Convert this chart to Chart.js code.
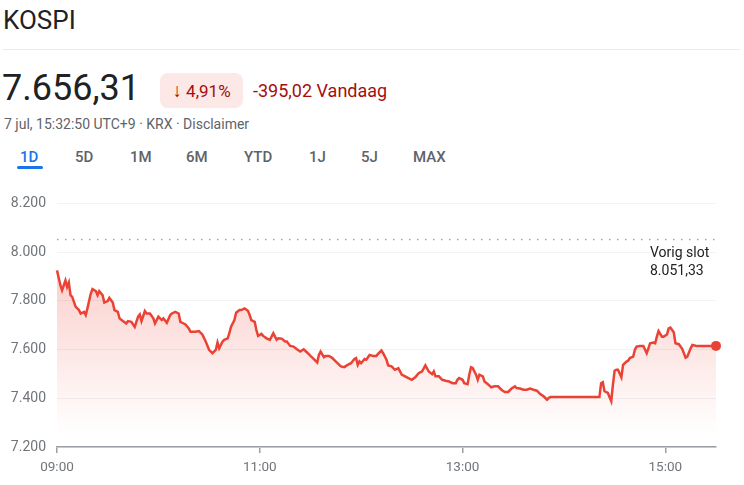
<!DOCTYPE html>
<html>
<head>
<meta charset="utf-8">
<script src="https://cdn.jsdelivr.net/npm/chart.js@4"></script>
<style>
  body { margin: 0; width: 744px; height: 485px; background: #fff; font-family: Roboto, Arial, sans-serif; position: relative; overflow: hidden; }
  .abs { position: absolute; white-space: nowrap; }
  #title { left: 3px; top: 5px; font-size: 26px; color: #202124; }
  #sep { left: 3px; top: 49px; width: 737px; height: 1px; background: #e8eaed; }
  #price { left: 2px; top: 67px; font-size: 36px; color: #202124; }
  #badge { left: 160px; top: 73px; width: 83px; height: 35px; border-radius: 8px; background: #fce8e6; color: #a50e0e; font-size: 17px; line-height: 35px; text-align: center; }
  #badge b { font-weight: 500; font-size: 19px; }
  #change { left: 253px; top: 80px; font-size: 18px; color: #a50e0e; }
  #sub { left: 4px; top: 116px; font-size: 14px; color: #5f6368; }
  .tab { top: 148px; font-size: 15px; color: #5f6368; font-weight: 500; }
  .tab.on { color: #1a73e8; }
  #uline { left: 17px; top: 166px; width: 26px; height: 3px; border-radius: 2px; background: #1a73e8; }
  #wrap { left: 0; top: 184px; width: 744px; height: 301px; }
</style>
</head>
<body>
<div class="abs" id="title">KOSPI</div>
<div class="abs" id="sep"></div>
<div class="abs" id="price">7.656,31</div>
<div class="abs" id="badge"><b>&#8595;</b> 4,91%</div>
<div class="abs" id="change">-395,02 Vandaag</div>
<div class="abs" id="sub">7 jul, 15:32:50 UTC+9 · KRX · Disclaimer</div>
<div class="abs tab on" style="left:20px">1D</div>
<div class="abs tab" style="left:75px">5D</div>
<div class="abs tab" style="left:130px">1M</div>
<div class="abs tab" style="left:186px">6M</div>
<div class="abs tab" style="left:244px">YTD</div>
<div class="abs tab" style="left:309px">1J</div>
<div class="abs tab" style="left:361px">5J</div>
<div class="abs tab" style="left:413px">MAX</div>
<div class="abs" id="uline"></div>
<div class="abs" id="wrap"><canvas id="chart"></canvas></div>

<script>
// minutes after 09:00
const minutes = [0,2,3,5,6,7,8,9,11,13,14,16,17,18,20,21,23,24,25,27,28,30,31,33,34,36,37,39,41,42,44,46,48,49,50,52,53,55,57,58,60,62,63,65,67,68,70,72,73,75,76,78,79,82,84,86,88,90,92,94,95,96,98,99,
  101,102,103,105,106,108,109,111,113,114,115,117,118,119,121,122,124,126,128,130,131,133,135,136,138,140,142,144,146,148,150,152,154,155,156,158,159,161,163,164,166,168,170,172,174,176,177,178,179,180,182,183,185,187,189,190,192,193,195,196,198,
  200,202,204,206,208,210,212,214,216,218,220,222,223,224,226,228,230,232,234,236,237,238,240,241,243,244,245,246,248,249,250,252,253,255,257,259,261,263,265,267,269,271,272,274,276,278,280,282,284,286,288,290,291,292,321,
  322,323,324,326,327,328,329,330,331,332,334,335,337,338,339,341,342,343,345,347,349,350,351,353,354,355,356,358,359,361,362,363,365,366,368,370,372,373,375,376,378,379,382,390];
const values = [7925,7864,7843,7884,7857,7875,7823,7816,7776,7762,7748,7755,7742,7769,7830,7848,7840,7823,7840,7823,7793,7799,7812,7793,7762,7755,7728,7717,7707,7717,7714,7693,7735,7744,7717,7758,7748,7748,7728,7707,7735,7721,7728,7710,7742,7748,7755,7748,7714,7707,7703,7687,7673,7673,7676,7662,7633,7599,7585,7599,7629,7605,7633,7640,
  7646,7667,7694,7721,7751,7762,7762,7769,7759,7742,7721,7714,7680,7656,7664,7656,7646,7640,7667,7640,7646,7645,7633,7633,7615,7612,7601,7592,7601,7588,7574,7561,7547,7578,7592,7569,7574,7574,7565,7558,7544,7531,7528,7537,7544,7561,7565,7537,7551,7544,7561,7558,7578,7574,7574,7582,7596,7585,7558,7535,7531,
  7517,7524,7497,7490,7483,7476,7486,7503,7510,7535,7510,7499,7510,7490,7490,7476,7472,7469,7462,7462,7476,7483,7476,7462,7458,7497,7527,7524,7497,7476,7497,7490,7469,7458,7445,7449,7449,7435,7426,7426,7440,7449,7442,7440,7435,7435,7440,7435,7431,7417,7408,7394,7401,7405,7405,
  7462,7466,7429,7422,7405,7388,7456,7513,7517,7517,7486,7537,7551,7554,7565,7571,7599,7612,7615,7615,7585,7605,7626,7629,7626,7653,7676,7653,7653,7662,7687,7690,7671,7626,7622,7603,7567,7571,7605,7619,7616,7615,7615,7615];

const tickMinutes = [0, 120, 240, 360];
const tickLabels = ["09:00", "11:00", "13:00", "15:00"];
const yTicks = [7200, 7400, 7600, 7800, 8000, 8200];
const previousClose = 8051.33;

const lineColor = "#ea4335";
const fmt = v => String(v).replace(/\B(?=(\d{3})+(?!\d))/g, ".");

const points = minutes.map((m, i) => ({ x: m, y: values[i] }));
const last = points.length - 1;

const previousClosePlugin = {
  id: "previousClose",
  afterDatasetsDraw(chart) {
    const { ctx, chartArea, scales } = chart;
    const y = scales.y.getPixelForValue(previousClose);
    ctx.save();
    ctx.strokeStyle = "#9aa0a6";
    ctx.lineWidth = 1.5;
    ctx.setLineDash([1.5, 6.5]);
    ctx.beginPath();
    ctx.moveTo(chartArea.left, y);
    ctx.lineTo(chartArea.right, y);
    ctx.stroke();
    ctx.setLineDash([]);
    ctx.fillStyle = "#202124";
    ctx.font = "14px Roboto";
    ctx.textBaseline = "middle";
    ctx.fillText("Vorig slot", chartArea.right - 66, y + 14);
    ctx.fillText("8.051,33", chartArea.right - 66, y + 32);
    ctx.restore();
  }
};

new Chart(document.getElementById("chart"), {
  type: "line",
  data: {
    datasets: [{
      data: points,
      borderColor: lineColor,
      borderWidth: 2.5,
      tension: 0,
      clip: false,
      fill: "start",
      backgroundColor: (c) => {
        const { chart } = c;
        if (!chart.chartArea) return "rgba(234,67,53,0.15)";
        const top = chart.scales.y.getPixelForValue(7950);
        const bottom = chart.scales.y.getPixelForValue(7250);
        const g = chart.ctx.createLinearGradient(0, top, 0, bottom);
        g.addColorStop(0, "rgba(234,67,53,0.26)");
        g.addColorStop(1, "rgba(234,67,53,0)");
        return g;
      },
      pointRadius: (c) => c.dataIndex === last ? 5 : 0,
      pointBackgroundColor: lineColor,
      pointBorderWidth: 0,
      pointHoverRadius: 0
    }]
  },
  options: {
    responsive: true,
    maintainAspectRatio: false,
    animation: false,
    layout: { padding: { top: 4, right: 28, left: 0, bottom: 0 } },
    plugins: { legend: { display: false }, tooltip: { enabled: false } },
    scales: {
      x: {
        type: "linear",
        min: 0,
        max: 390,
        afterBuildTicks: (s) => { s.ticks = tickMinutes.map(v => ({ value: v })); },
        afterFit: (s) => { s.height = 38; },
        ticks: {
          autoSkip: false,
          maxRotation: 0,
          padding: 7,
          color: "#70757a",
          font: { family: "Roboto", size: 13.5 },
          callback: (v) => tickLabels[tickMinutes.indexOf(v)]
        },
        grid: { drawOnChartArea: false, drawTicks: true, tickLength: 6, color: "#9aa0a6", lineWidth: 1.5 },
        border: { color: "#9aa0a6", width: 1.5 }
      },
      y: {
        min: 7200,
        max: 8200,
        afterBuildTicks: (s) => { s.ticks = yTicks.map(v => ({ value: v })); },
        afterFit: (s) => { s.width = 57; },
        ticks: {
          padding: 11,
          color: "#70757a",
          font: { family: "Roboto", size: 14 },
          callback: (v) => fmt(v)
        },
        grid: { color: "#f1f3f4", drawTicks: false },
        border: { display: false }
      }
    }
  },
  plugins: [previousClosePlugin]
});
</script>
</body>
</html>
